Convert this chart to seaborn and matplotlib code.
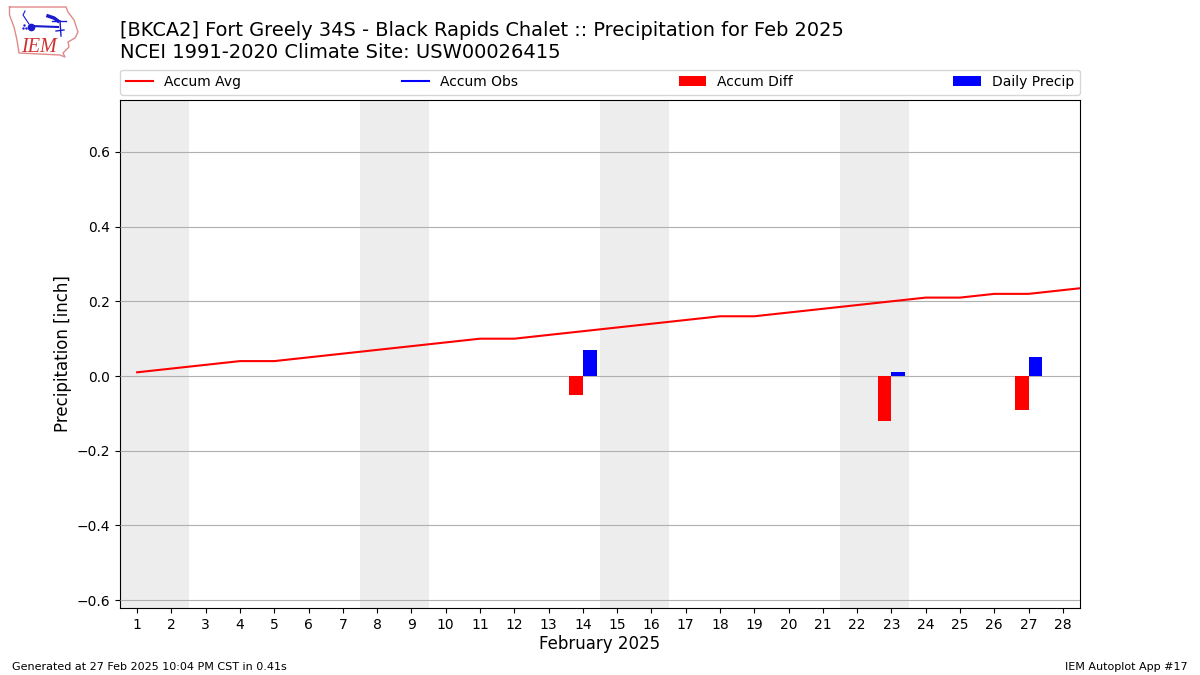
import pandas as pd
import numpy as np
import matplotlib
matplotlib.use('Agg')
import matplotlib.pyplot as plt
import seaborn as sns

# Values
days = list(range(1, 29))
accum_avg = [0.01, 0.02, 0.03, 0.04, 0.04, 0.05, 0.06, 0.07, 0.08, 0.09,
             0.10, 0.10, 0.11, 0.12, 0.13, 0.14, 0.15, 0.16, 0.16, 0.17,
             0.18, 0.19, 0.20, 0.21, 0.21, 0.22, 0.22, 0.23]
# the avg line runs off the right edge, so it has one more day
avg_days = days + [29]
avg_values = accum_avg + [0.24]
accum_diff = [0] * 28
daily_precip = [0] * 28
accum_diff[13] = -0.05
accum_diff[22] = -0.12
accum_diff[26] = -0.09
daily_precip[13] = 0.07
daily_precip[22] = 0.01
daily_precip[26] = 0.05
weekends = [(0.5, 2.5), (7.5, 9.5), (14.5, 16.5), (21.5, 23.5)]
yticks = [-0.6, -0.4, -0.2, 0.0, 0.2, 0.4, 0.6]

bars = pd.DataFrame({
    'day': days + days,
    'value': accum_diff + daily_precip,
    'series': ['Accum Diff'] * 28 + ['Daily Precip'] * 28,
})

fig = plt.figure(figsize=(12, 6.75), dpi=100)
ax = fig.add_axes([120 / 1200, 1 - 608 / 675, 960 / 1200, 508 / 675])

# Weekend shading
for start, end in weekends:
    ax.axvspan(start, end, color='#ededed', lw=0, zorder=0)

sns.barplot(data=bars, x='day', y='value', hue='series', native_scale=True,
            palette={'Accum Diff': 'red', 'Daily Precip': 'blue'},
            width=0.8, gap=0, saturation=1, legend=False, ax=ax, zorder=3)
sns.lineplot(x=avg_days, y=avg_values, color='red', lw=1.5, ax=ax, zorder=4)

ax.set_xlim(0.5, 28.5)
ax.set_ylim(-0.621, 0.739)
ax.set_xticks(days)
ax.set_yticks(yticks)
ax.grid(axis='y', color='#b0b0b0', lw=0.8, zorder=1)
ax.set_axisbelow(False)
ax.set_xlabel('February 2025', fontsize=12, labelpad=2.3)
ax.set_ylabel('Precipitation [inch]', fontsize=12, labelpad=3)

# Legend
handles = [
    plt.Line2D([], [], color='red', lw=1.5),
    plt.Line2D([], [], color='blue', lw=1.5),
    plt.Rectangle((0, 0), 1, 1, color='red', lw=0),
    plt.Rectangle((0, 0), 1, 1, color='blue', lw=0),
]
labels = ['Accum Avg', 'Accum Obs', 'Accum Diff', 'Daily Precip']
ax.legend(handles, labels, ncol=4, mode='expand', loc='lower left',
          bbox_to_anchor=(0, 1.0105, 1, 0.05), borderaxespad=0, fontsize=10)

# Titles and footer
fig.text(120 / 1200, 1 - 39.5 / 675,
         '[BKCA2] Fort Greely 34S - Black Rapids Chalet :: Precipitation for Feb 2025',
         fontsize=13.98, ha='left', va='bottom')
fig.text(120 / 1200, 1 - 61.5 / 675, 'NCEI 1991-2020 Climate Site: USW00026415',
         fontsize=14, ha='left', va='bottom')
fig.text(12 / 1200, 1 - 672 / 675, 'Generated at 27 Feb 2025 10:04 PM CST in 0.41s',
         fontsize=8, ha='left', va='bottom')
fig.text(1188 / 1200, 1 - 672 / 675, 'IEM Autoplot App #17',
         fontsize=8, ha='right', va='bottom')

# Small logo in the top left corner, axes coords are figure pixels
logo = fig.add_axes([0, 1 - 60 / 675, 90 / 1200, 60 / 675])
logo.set_xlim(0, 90)
logo.set_ylim(60, 0)
logo.axis('off')
outline_x = [9.5, 66, 68, 74, 78, 75, 68, 69, 63, 65, 60, 19, 17, 14, 9.5, 9.5]
outline_y = [7, 7, 12, 20, 32, 38, 42, 47, 53, 57, 55, 53, 40, 27, 15, 7]
logo.plot(outline_x, outline_y, color='#e08a8a', lw=1)
logo.plot([31, 58], [26, 27], color='#1a1ad0', lw=1.5)
logo.plot([31], [26.5], 'o', color='#1a1ad0', ms=4.5)
logo.plot([48, 54, 58], [16, 18, 21], color='#1a1ad0', lw=2.5)
logo.plot([52, 66], [21, 21], color='#1a1ad0', lw=1)
logo.plot([60, 61], [21, 36], color='#1a1ad0', lw=1)
logo.plot([56, 64], [31, 30], color='#1a1ad0', lw=1)
logo.plot([29, 23, 25], [24, 15, 11], color='#1a1ad0', lw=0.8)
logo.plot([24, 26, 23], [25, 28, 28], '.', color='#1a1ad0', ms=1.5)
logo.text(21, 52, 'IEM', family='Liberation Serif', style='italic', fontsize=14.5,
          color='#d03030', ha='left', va='baseline')

fig.savefig('out.png', dpi=100)
